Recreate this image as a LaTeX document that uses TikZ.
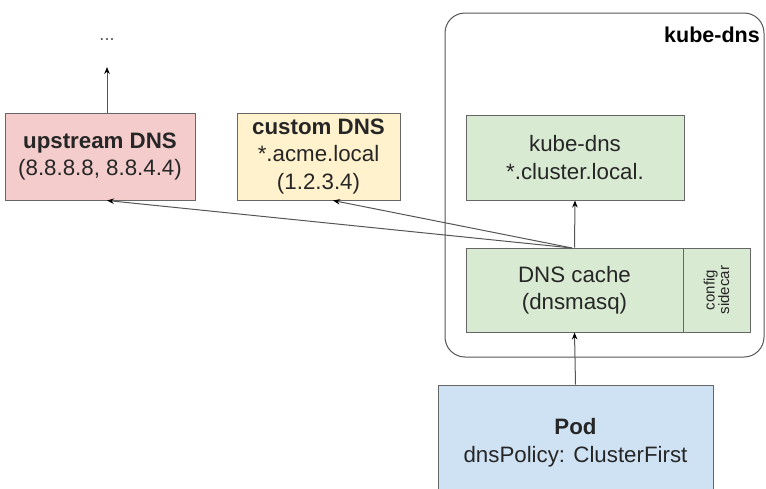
\documentclass[tikz,border=0pt]{standalone}
\usepackage{fontspec}
\setmainfont{Liberation Sans}
\usetikzlibrary{arrows.meta}
\definecolor{pinkfill}{HTML}{F4CCCC}
\definecolor{yellowfill}{HTML}{FFF2CC}
\definecolor{greenfill}{HTML}{D9EAD3}
\definecolor{bluefill}{HTML}{CFE2F3}
\definecolor{edgegray}{HTML}{666666}
\definecolor{linegray}{HTML}{555555}
\definecolor{txt}{HTML}{262626}
\tikzset{
  box/.style={draw=edgegray, line width=1pt, align=center, inner sep=0pt, text=txt,
    font=\fontsize{22.3}{27.5}\selectfont},
  conn/.style={draw=linegray, line width=1pt},
  arr/.style={conn, -{Stealth[length=7pt,width=5.5pt,color=black]}},
}
\begin{document}
\begin{tikzpicture}[x=1pt,y=-1pt]
\useasboundingbox (0,0) rectangle (766,488);
\clip (0,0) rectangle (766,488);
% container
\draw[draw=linegray, line width=1pt, rounded corners=20pt] (445,13) rectangle (764,357);
\node[font=\bfseries\fontsize{21.5}{25}\selectfont, text=black, anchor=east, inner sep=0pt] (kdlabel) at (760,35) {kube-dns};
% boxes
\node[box, fill=pinkfill, minimum width=190pt, minimum height=87pt] (up) at (100,156.5)
  {\textbf{upstream DNS}\\(8.8.8.8, 8.8.4.4)};
\node[box, fill=yellowfill, minimum width=163pt, minimum height=87pt] (cu) at (318.5,156.5)
  {\textbf{custom DNS}\\*.acme.local\\(1.2.3.4)};
\node[box, fill=greenfill, minimum width=218pt, minimum height=85pt] (kd) at (575,157.5)
  {kube-dns\\*.cluster.local.};
\node[box, fill=greenfill, minimum width=217pt, minimum height=84pt] (dc) at (574.5,290)
  {DNS cache\\(dnsmasq)};
\node[box, fill=greenfill, minimum width=67pt, minimum height=84pt] (cs) at (716.5,290) {};
\node[rotate=90, align=center, text=txt, inner sep=0pt, font=\fontsize{15}{14.5}\selectfont] (cstext) at (cs.center) {config\\sidecar};
\node[box, fill=bluefill, minimum width=275pt, minimum height=115pt] (pod) at (575.5,442.5)
  {\textbf{Pod}\\dnsPolicy: ClusterFirst};
% dots
\node[text=linegray, inner sep=0pt, font=\fontsize{18}{18}\selectfont] (dots) at (107,40) {...};
\coordinate (uptip) at (107,67);
\coordinate (src) at (572,248);
% connectors
\draw[arr] ([xshift=7pt]up.north) -- (uptip);
\draw[arr] (dc.north) -- (kd.south);
\draw[arr] (pod.north) -- (dc.south);
\draw[arr] (src) -- ([xshift=7pt]up.south);
\draw[arr] (src) -- ([xshift=14.5pt]cu.south);
\end{tikzpicture}
\end{document}
